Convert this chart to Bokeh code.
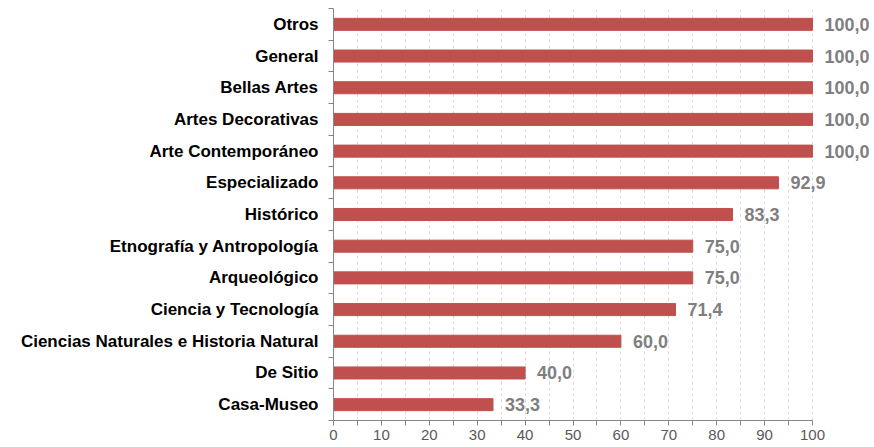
from bokeh.plotting import figure
from bokeh.models import ColumnDataSource, FixedTicker, LabelSet, Range1d
from bokeh.core.properties import value
from bokeh.embed import file_html
from bokeh.resources import INLINE

categories = ["Casa-Museo", "De Sitio", "Ciencias Naturales e Historia Natural",
              "Ciencia y Tecnología", "Arqueológico", "Etnografía y Antropología",
              "Histórico", "Especializado", "Arte Contemporáneo", "Artes Decorativas",
              "Bellas Artes", "General", "Otros"]
values = [33.3, 40.0, 60.0, 71.4, 75.0, 75.0, 83.3, 92.9, 100.0, 100.0, 100.0, 100.0, 100.0]
x_ticks = [0, 10, 20, 30, 40, 50, 60, 70, 80, 90, 100]
x_minor = [5, 15, 25, 35, 45, 55, 65, 75, 85, 95]

pos = list(range(len(categories)))
labels = [f"{v:.1f}".replace(".", ",") for v in values]
src = ColumnDataSource(dict(y=pos, v=values, lab=labels))

px_per_unit = 4.79
frame_w = 539
p = figure(width=333 + frame_w, height=447, output_backend="svg", toolbar_location=None,
           x_range=Range1d(0, frame_w / px_per_unit), y_range=Range1d(-0.5, len(categories) - 0.5),
           min_border_left=333, min_border_right=0, min_border_top=8, min_border_bottom=27)
p.outline_line_color = None
p.background_fill_color = "white"

p.hbar(y="y", right="v", left=0, height=0.38, source=src, color="#C0504D")

ls = LabelSet(x="v", y="y", text="lab", source=src, x_offset=12,
              text_font=value("Liberation Sans"), text_font_style="bold", text_font_size="18px",
              text_color="#7F7F7F", text_baseline="middle", text_align="left")
p.add_layout(ls)

# x axis
p.xaxis.ticker = FixedTicker(ticks=x_ticks, minor_ticks=x_minor)
p.xaxis.bounds = (0, 100)
p.xaxis.axis_line_color = "#868686"
p.xaxis.major_tick_line_color = "#868686"
p.xaxis.minor_tick_line_color = "#868686"
p.xaxis.major_tick_out = 5
p.xaxis.major_tick_in = 0
p.xaxis.minor_tick_out = 5
p.xaxis.minor_tick_in = 0
p.xaxis.major_label_text_font = "Liberation Sans"
p.xaxis.major_label_text_font_size = "15px"
p.xaxis.major_label_text_color = "#595959"
p.xaxis.major_label_standoff = 4

# y axis
bounds = [i - 0.5 for i in range(len(categories) + 1)]
p.yaxis.ticker = FixedTicker(ticks=pos, minor_ticks=bounds)
p.yaxis.major_label_overrides = {i: c for i, c in enumerate(categories)}
p.yaxis.axis_line_color = "#868686"
p.yaxis.major_tick_line_color = None
p.yaxis.minor_tick_line_color = "#868686"
p.yaxis.minor_tick_out = 5
p.yaxis.minor_tick_in = 0
p.yaxis.major_label_text_font = "Liberation Sans"
p.yaxis.major_label_text_font_style = "bold"
p.yaxis.major_label_text_font_size = "17px"
p.yaxis.major_label_text_color = "black"
p.yaxis.major_label_standoff = 9

# grid
p.ygrid.grid_line_color = None
p.xgrid.grid_line_color = "#D9D9D9"
p.xgrid.grid_line_dash = "3 3"
p.xgrid.minor_grid_line_color = "#D9D9D9"
p.xgrid.minor_grid_line_dash = "3 3"

open("out.html", "w").write(file_html(p, INLINE))
